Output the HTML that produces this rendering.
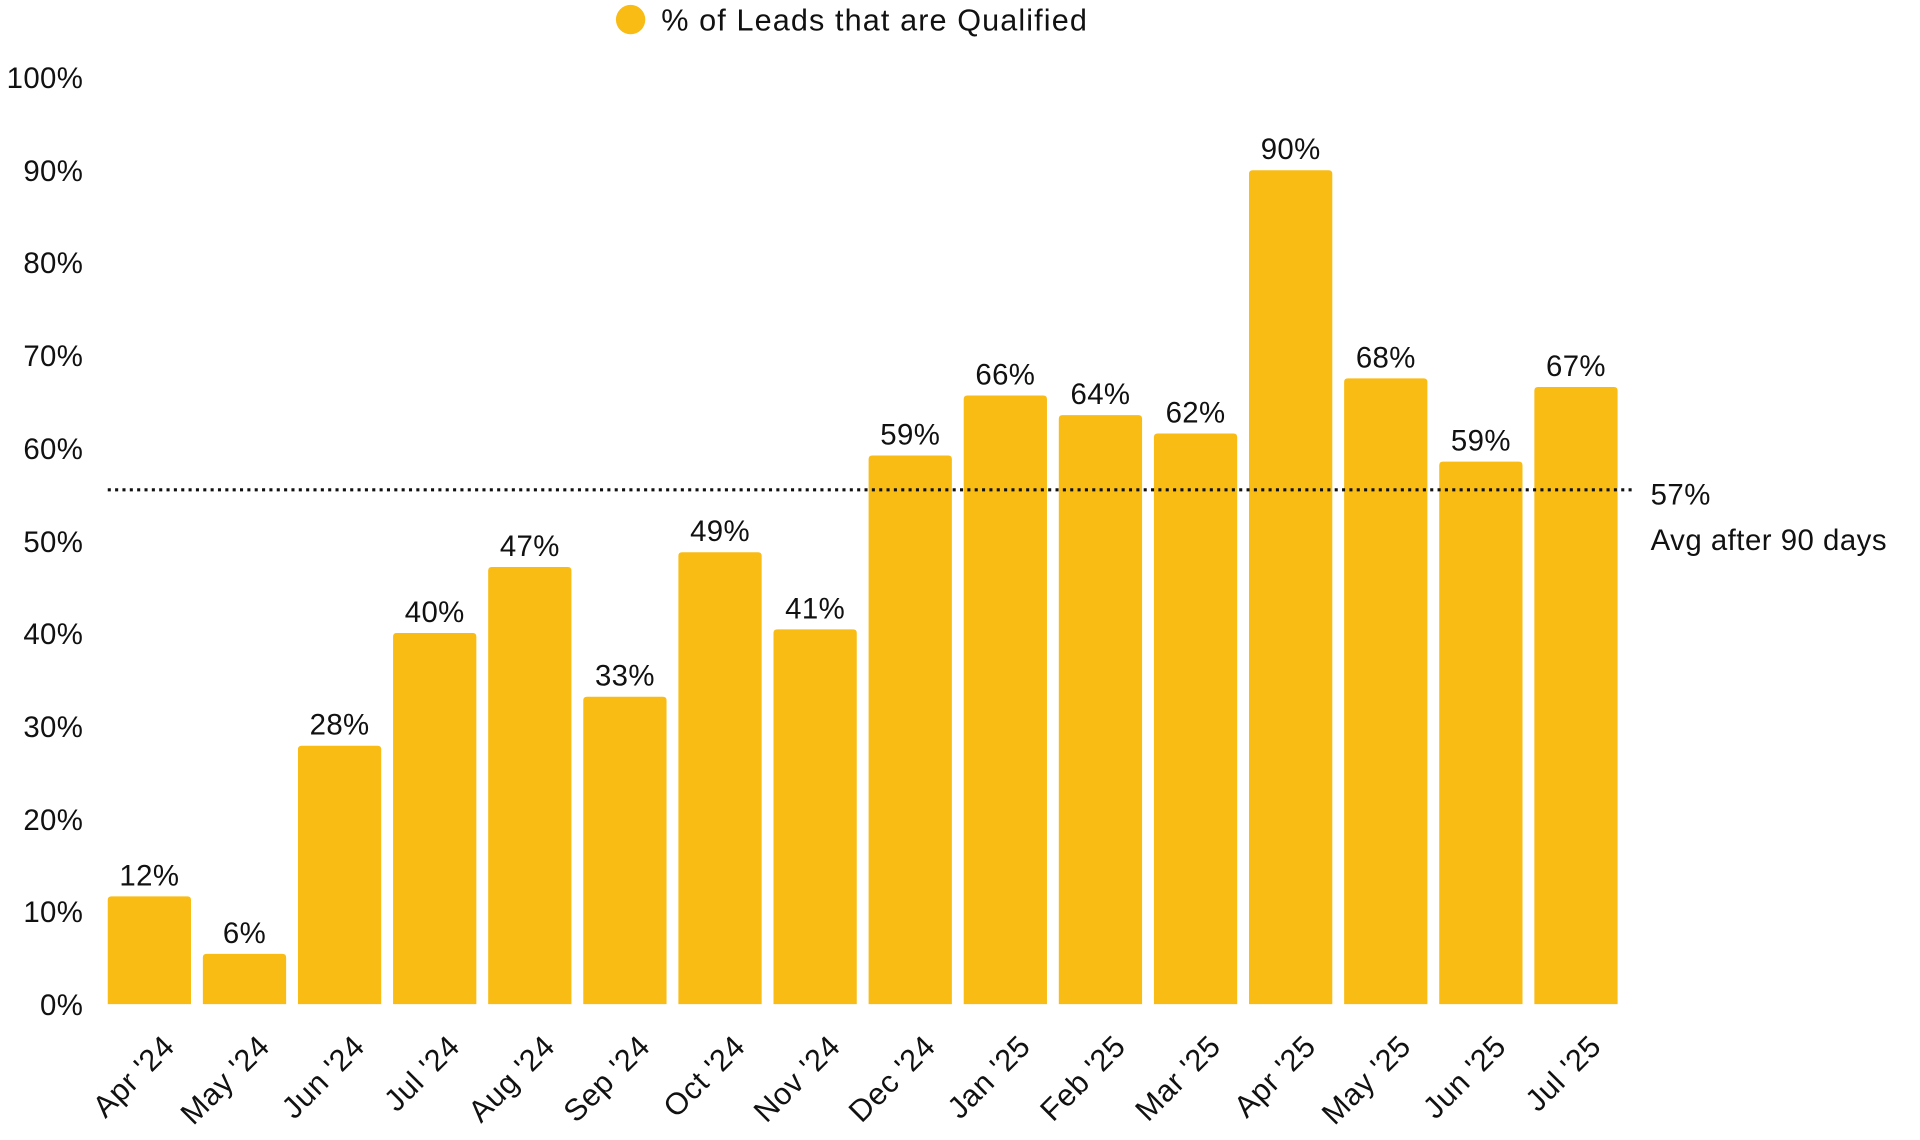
<!DOCTYPE html>
<html><head><meta charset="utf-8"><style>
html,body{margin:0;padding:0;background:#fff;}
svg{display:block;font-family:"Liberation Sans",sans-serif;}
</style></head><body>
<svg width="1920" height="1140" viewBox="0 0 1568 931" xmlns="http://www.w3.org/2000/svg">
<circle cx="515" cy="16" r="12" fill="#F9BC15"/>
<text x="540" y="25" font-size="25" letter-spacing="0.9" fill="#111">% of Leads that are Qualified</text>
<g font-size="24" letter-spacing="0.3" fill="#111" text-anchor="end">
<text x="68" y="829">0%</text>
<text x="68" y="753">10%</text>
<text x="68" y="678">20%</text>
<text x="68" y="602">30%</text>
<text x="68" y="526">40%</text>
<text x="68" y="451">50%</text>
<text x="68" y="375">60%</text>
<text x="68" y="299">70%</text>
<text x="68" y="223">80%</text>
<text x="68" y="148">90%</text>
<text x="68" y="72">100%</text>
</g>
<g id="bars" fill="#F9BC15"></g>
<g id="vals" font-size="24" letter-spacing="0.3" fill="#111" text-anchor="middle"></g>
<g id="xl" font-size="25" letter-spacing="0.5" fill="#111" text-anchor="end"></g>
<line x1="88" y1="400" x2="1335" y2="400" stroke="#111" stroke-width="2.5" stroke-dasharray="2.5,3.5"/>
<text x="1348" y="412" font-size="24" letter-spacing="0.4" fill="#111">57%</text>
<text x="1348" y="449" font-size="24" letter-spacing="0.4" fill="#111">Avg after 90 days</text>
<script>
var v=[12,6,28,40,47,33,49,41,59,66,64,62,90,68,59,67];
var tops=[732,779,609,517,463,569,451,514,372,323,339,354,139,309,377,316];
var n=["Apr '24","May '24","Jun '24","Jul '24","Aug '24","Sep '24","Oct '24","Nov '24","Dec '24","Jan '25","Feb '25","Mar '25","Apr '25","May '25","Jun '25","Jul '25"];
var ns="http://www.w3.org/2000/svg";
for(var i=0;i<16;i++){
 var x=88+i*77.67,w=68,t=tops[i],r=3;
 var p=document.createElementNS(ns,"path");
 p.setAttribute("d","M"+x+",820 V"+(t+r)+" Q"+x+","+t+" "+(x+r)+","+t+" H"+(x+w-r)+" Q"+(x+w)+","+t+" "+(x+w)+","+(t+r)+" V820 Z");
 document.getElementById("bars").appendChild(p);
 var tx=document.createElementNS(ns,"text");
 tx.setAttribute("x",x+w/2);tx.setAttribute("y",t-9);tx.textContent=v[i]+"%";
 document.getElementById("vals").appendChild(tx);
 var l=document.createElementNS(ns,"text");
 var cx=x+w/2+22,cy=856;
 l.setAttribute("transform","translate("+cx+","+cy+") rotate(-45)");
 l.textContent=n[i];
 document.getElementById("xl").appendChild(l);
}
</script>
</svg>
</body></html>
